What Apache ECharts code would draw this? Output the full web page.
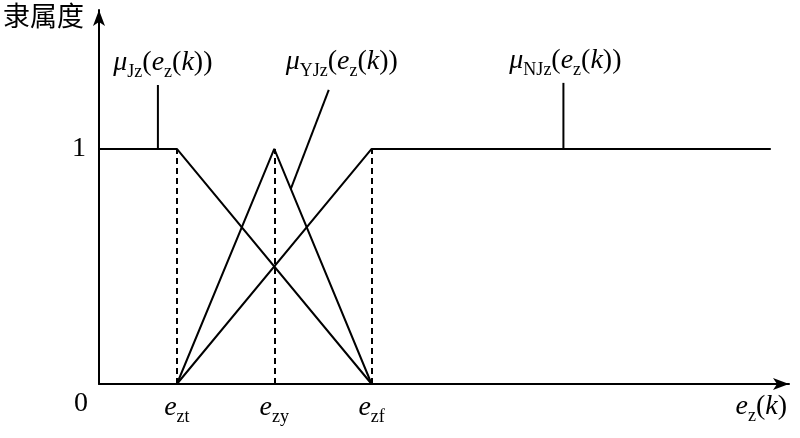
<!DOCTYPE html>
<html>
<head>
<meta charset="utf-8">
<script src="https://cdn.jsdelivr.net/npm/echarts@6/dist/echarts.min.js"></script>
<style>
html, body { margin: 0; padding: 0; background: #fff; }
#chart { width: 800px; height: 438px; }
</style>
</head>
<body>
<div id="chart"></div>
<script>
// 隶属度函数 (membership functions), x in units of the error axis
var tickValues = [0.8, 1.8, 2.8];          // e_zt, e_zy, e_zf
var tickSubs = ['zt', 'zy', 'zf'];
var jzX = [0, 0.8, 2.8];
var jzY = [1, 1, 0];
var yjzX = [0.8, 1.8, 2.8];
var yjzY = [0, 1, 0];
var njzX = [0.8, 2.8, 6.9];
var njzY = [0, 1, 1];
// leader lines from each curve up to its label
var leaderJz = [[0.605, 1], [0.605, 1.272]];
var leaderYJz = [[1.97, 0.83], [2.36, 1.251]];
var leaderNJz = [[4.77, 1], [4.77, 1.281]];
var labelSubs = ['Jz', 'YJz', 'NJz'];

var serif = '"Liberation Serif", "Times New Roman", "Noto Sans CJK SC", serif';
var rich = {
    i: { fontFamily: serif, fontStyle: 'italic', fontSize: 28, color: '#000' },
    n: { fontFamily: serif, fontSize: 28, color: '#000' },
    s: { fontFamily: serif, fontSize: 18, color: '#000', padding: [18, 0, 0, 0] },
    zero: { fontFamily: serif, fontSize: 28, color: '#000', padding: [0, 36, 0, 0] }
};

function zip(xs, ys) {
    return xs.map(function (x, k) { return [x, ys[k]]; });
}
function muText(sub) {
    return '{i|μ}{s|' + sub + '}{n|(}{i|e}{s|z}{n|(}{i|k}{n|))}';
}
function leader(pts, sub, offset) {
    return {
        type: 'line',
        data: [pts[0], {
            value: pts[1],
            label: {
                show: true,
                position: 'top',
                distance: 0,
                offset: offset,
                formatter: muText(sub),
                rich: rich
            }
        }],
        symbol: 'circle',
        symbolSize: 0,
        showSymbol: true,
        silent: true,
        lineStyle: { color: '#000', width: 2 },
        animation: false
    };
}
function curve(xs, ys) {
    return {
        type: 'line',
        data: zip(xs, ys),
        showSymbol: false,
        silent: true,
        lineStyle: { color: '#000', width: 2 },
        animation: false
    };
}

var chart = echarts.init(document.getElementById('chart'));
var yjz = curve(yjzX, yjzY);
yjz.markLine = {
    silent: true,
    symbol: ['none', 'none'],
    label: { show: false },
    lineStyle: { color: '#000', width: 2, type: [6, 4] },
    data: tickValues.map(function (v) {
        return [{ coord: [v, 0] }, { coord: [v, 1] }];
    }),
    animation: false
};

chart.setOption({
    backgroundColor: '#fff',
    animation: false,
    grid: { left: 98, right: 11, top: 10, bottom: 54 },
    xAxis: {
        type: 'value',
        min: 0,
        max: 7.087,
        name: '{i|e}{s|z}{n|(}{i|k}{n|)}',
        nameLocation: 'end',
        nameGap: -2,
        nameTextStyle: { align: 'right', verticalAlign: 'top', padding: [5, 0, 0, 0], rich: rich },
        axisLine: {
            symbol: ['none', 'arrow'],
            symbolSize: [9, 16],
            lineStyle: { color: '#000', width: 2 }
        },
        axisTick: { show: false },
        splitLine: { show: false },
        axisLabel: {
            customValues: [0].concat(tickValues),
            margin: 6,
            formatter: function (v) {
                var k = tickValues.indexOf(v);
                if (k < 0) return '{zero|0}';
                return '{i|e}{s|' + tickSubs[k] + '}';
            },
            rich: rich
        }
    },
    yAxis: {
        type: 'value',
        min: 0,
        max: 1.591,
        name: '隶属度',
        nameLocation: 'end',
        nameGap: -6,
        nameTextStyle: {
            align: 'right', verticalAlign: 'middle',
            fontFamily: '"Noto Sans CJK SC", serif', fontSize: 27, color: '#000',
            padding: [0, 15, 0, 0]
        },
        axisLine: {
            symbol: ['none', 'arrow'],
            symbolSize: [9, 16],
            lineStyle: { color: '#000', width: 2 }
        },
        axisTick: { show: false },
        splitLine: { show: false },
        axisLabel: {
            customValues: [1],
            margin: 13,
            formatter: '{n|1}',
            rich: rich
        }
    },
    series: [
        curve(jzX, jzY),
        yjz,
        curve(njzX, njzY),
        leader(leaderJz, labelSubs[0], [5, -4]),
        leader(leaderYJz, labelSubs[1], [13, -10]),
        leader(leaderNJz, labelSubs[2], [2, -4])
    ]
});
</script>
</body>
</html>
